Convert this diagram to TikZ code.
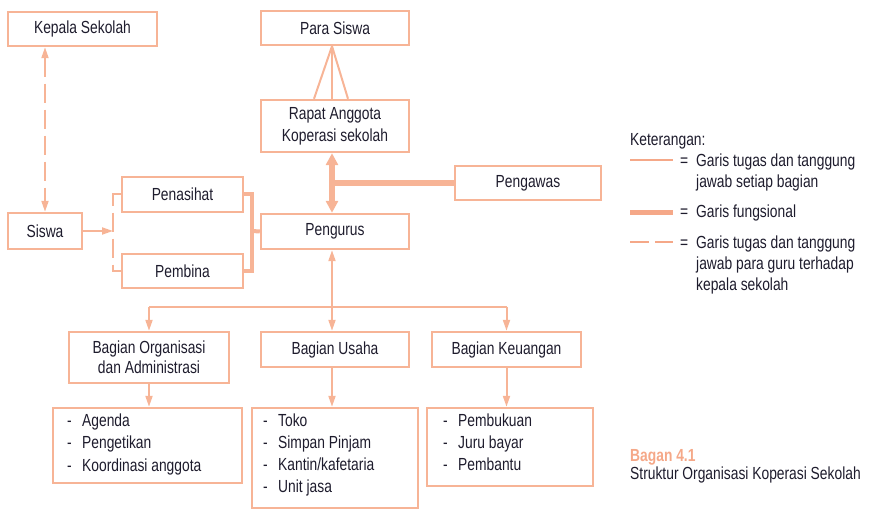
\documentclass[tikz,border=0pt]{standalone}
\usepackage{fontspec}
\setmainfont{Liberation Sans}[FakeStretch=0.79]
\usetikzlibrary{arrows.meta,calc}
\definecolor{salmon}{RGB}{247,180,150}
\definecolor{keycolor}{RGB}{245,168,136}
\definecolor{ink}{RGB}{30,28,45}

\begin{document}
\begin{tikzpicture}[x=1pt, y=-1pt,
  every node/.style={font=\fontsize{17.5}{22}\selectfont, text=ink},
  box/.style={shape=rectangle, draw=salmon, line width=2.4pt, inner sep=0pt},
  thinline/.style={draw=salmon, line width=2pt},
  funcline/.style={draw=salmon, line width=5.5pt},
  bracketline/.style={draw=salmon, line width=4pt},
  dashline/.style={draw=salmon, line width=2pt, dash pattern=on 19pt off 7pt},
  bigtip/.style={>={Triangle[length=12pt, width=12pt]}},
  item/.style={anchor=base west, inner sep=0pt},
  keyline/.style={draw=keycolor, line width=2pt},
  >={Triangle[length=11pt, width=7pt]}
]
\useasboundingbox (0,0) rectangle (878,518);

% kotak-kotak
\node[box, minimum width=149pt, minimum height=34pt] (kepala) at (82.5,29) {Kepala Sekolah};
\node[box, minimum width=74pt, minimum height=36pt] (siswa) at (45,231) {Siswa};
\node[box, minimum width=121pt, minimum height=35pt] (penasihat) at (182.5,194.5) {Penasihat};
\node[box, minimum width=121pt, minimum height=34pt] (pembina) at (182.5,271) {Pembina};
\node[box, minimum width=148pt, minimum height=34pt] (parasiswa) at (335,28) {Para Siswa};
\node[box, minimum width=148pt, minimum height=52pt, align=center] (rapat) at (335,126) {Rapat Anggota\\Koperasi sekolah};
\node[box, minimum width=146pt, minimum height=34pt] (pengawas) at (528,183) {Pengawas};
\node[box, minimum width=148pt, minimum height=35pt] (pengurus) at (335,231.5) {Pengurus};
\node[box, minimum width=160pt, minimum height=51pt, align=center] (organisasi) at (149,357.5) {Bagian Organisasi\\[-2pt]dan Administrasi};
\node[box, minimum width=148pt, minimum height=35pt] (usaha) at (335,349.5) {Bagian Usaha};
\node[box, minimum width=149pt, minimum height=35pt] (keuangan) at (506.5,349.5) {Bagian Keuangan};
\node[box, minimum width=189pt, minimum height=75pt] (listorg) at (147.5,445.5) {};
\node[box, minimum width=166pt, minimum height=100pt] (listusaha) at (335,458) {};
\node[box, minimum width=166pt, minimum height=78pt] (listkeu) at (510,447) {};

% isi daftar
\node[item] (org1) at (67,426) {\makebox[15pt][l]{-}Agenda};
\node[item] (org2) at (67,448.5) {\makebox[15pt][l]{-}Pengetikan};
\node[item] (org3) at (67,471) {\makebox[15pt][l]{-}Koordinasi anggota};
\node[item] (usaha1) at (263,426.5) {\makebox[15pt][l]{-}Toko};
\node[item] (usaha2) at (263,448.5) {\makebox[15pt][l]{-}Simpan Pinjam};
\node[item] (usaha3) at (263,470.5) {\makebox[15pt][l]{-}Kantin/kafetaria};
\node[item] (usaha4) at (263,492.5) {\makebox[15pt][l]{-}Unit jasa};
\node[item] (keu1) at (443,426.5) {\makebox[15pt][l]{-}Pembukuan};
\node[item] (keu2) at (443,448.5) {\makebox[15pt][l]{-}Juru bayar};
\node[item] (keu3) at (443,470.5) {\makebox[15pt][l]{-}Pembantu};

% titik bantu
\coordinate (spine) at (332,0);
\coordinate (bracketl) at (113,231);
\coordinate (bracketr) at (252,231);
\coordinate (branch) at (332,307);

% garis
\draw [dashline, <->] (kepala.south -| siswa.north) -- (siswa.north);
\draw [thinline, ->] (siswa.east) -- (bracketl);
\draw [dashline] (penasihat.west) -| (bracketl) |- (pembina.west);
\draw [bracketline] (penasihat.east) -| (bracketr) |- (pembina.east);
\draw [bracketline] (bracketr) -- (pengurus.west);
\draw [thinline] (parasiswa.south -| spine) -- ($(rapat.north -| spine)+(-18,0)$);
\draw [thinline] (parasiswa.south -| spine) -- (rapat.north -| spine);
\draw [thinline] (parasiswa.south -| spine) -- ($(rapat.north -| spine)+(16,0)$);
\draw [funcline, bigtip, <->] (rapat.south -| spine) -- (pengurus.north -| spine);
\draw [funcline] (pengawas.west) -- (pengawas.west -| spine);
\draw [thinline, <->] (pengurus.south -| spine) -- (usaha.north -| spine);
\draw [thinline] (branch -| organisasi.north) -- (branch -| keuangan.north);
\draw [thinline, ->] (branch -| organisasi.north) -- (organisasi.north);
\draw [thinline, ->] (branch -| keuangan.north) -- (keuangan.north);
\draw [thinline, ->] (organisasi.south) -- (organisasi.south |- listorg.north);
\draw [thinline, ->] (usaha.south -| spine) -- (listusaha.north -| spine);
\draw [thinline, ->] (keuangan.south) -- (keuangan.south |- listkeu.north);

% keterangan
\node[item] (keterangan) at (630,146) {Keterangan:};
\coordinate (k1a) at (630,160);
\coordinate (k1b) at (673,160);
\coordinate (k2a) at (630,212.5);
\coordinate (k2b) at (673,212.5);
\coordinate (k3a) at (630,242);
\coordinate (k3b) at (673,242);
\draw [keyline] (k1a) -- (k1b);
\draw [keyline, line width=5pt] (k2a) -- (k2b);
\draw [keyline, dash pattern=on 19pt off 6pt] (k3a) -- (k3b);
\node[item] (k1eq) at (680,166.5) {=};
\node[item] (k1t) at (696,166.5) {Garis tugas dan tanggung};
\node[item] (k1u) at (696,187.5) {jawab setiap bagian};
\node[item] (k2eq) at (680,217.5) {=};
\node[item] (k2t) at (696,217.5) {Garis fungsional};
\node[item] (k3eq) at (680,248.5) {=};
\node[item] (k3t) at (696,248.5) {Garis tugas dan tanggung};
\node[item] (k3u) at (696,269.5) {jawab para guru terhadap};
\node[item] (k3v) at (696,290.5) {kepala sekolah};

% judul bagan
\node[item, text=keycolor, font=\fontsize{17.5}{22}\selectfont\bfseries] (bagan) at (630,461.5) {Bagan 4.1};
\node[item] (judul) at (630,479) {Struktur Organisasi Koperasi Sekolah};
\end{tikzpicture}
\end{document}
